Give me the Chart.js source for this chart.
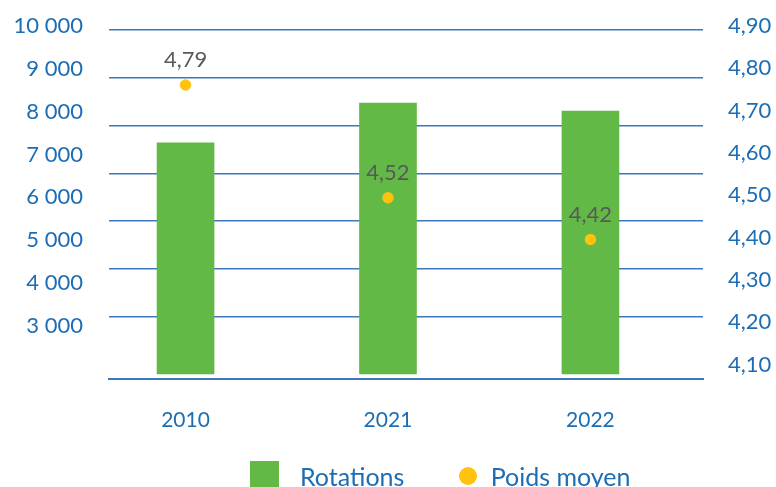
<!DOCTYPE html>
<html lang="fr">
<head>
<meta charset="utf-8">
<title>Rotations et poids moyen</title>
<script src="https://cdn.jsdelivr.net/npm/chart.js@4.4.1/dist/chart.umd.min.js"></script>
<style>
  html, body { margin: 0; padding: 0; background: #fff; overflow: hidden; }
  #wrap { position: relative; width: 776px; height: 487px; }
  #legend { position: absolute; left: 0; top: 0; width: 776px; height: 487px; pointer-events: none;
    font-family: Lato, sans-serif; font-size: 25px; color: #1d6db5; }
  .item { position: absolute; top: 461px; height: 29px; display: flex; align-items: center; white-space: nowrap; }
  .item0 { left: 250px; }
  .item1 { left: 458.7px; }
  .square { width: 29px; height: 29px; margin-right: 21px; }
  .dot { width: 18px; height: 18px; border-radius: 50%; margin-right: 14px; }
</style>
</head>
<body>
<div id="wrap">
  <canvas id="myChart" width="776" height="487"></canvas>
  <div id="legend"></div>
</div>
<script>
'use strict';

// data
let years = ['2010', '2021', '2022'];
let rotations = [7270, 8200, 8010];
let poidsMoyen = [4.79, 4.52, 4.42];

// tick labels
let rotationTicks = [3000, 4000, 5000, 6000, 7000, 8000, 9000, 10000];
let gridTicks = [4000, 5000, 6000, 7000, 8000, 9000, 10000];
let poidsTicks = [4.1, 4.2, 4.3, 4.4, 4.5, 4.6, 4.7, 4.8, 4.9];

const blue = '#1d6db5';
const lineBlue = '#3c78ba';
const green = '#62b946';
const yellow = '#ffc20f';
const tickFont = {family: 'Lato', size: 22};

function formatThousands(v) {
  return String(v).replace(/\B(?=(\d{3})+(?!\d))/g, ' ');
}

function formatComma(v) {
  return v.toFixed(2).replace('.', ',');
}

// force the tick list of an axis
function setTicks(values) {
  return function(axis) {
    axis.ticks = values.map(v => ({value: v}));
  };
}

// fixed axis width, no extra room for the end labels
function fixWidth(w) {
  return function(axis) {
    axis.width = w;
    axis.paddingTop = 0;
    axis.paddingBottom = 0;
  };
}

// writes the poids moyen value above each dot
const valueLabels = {
  id: 'valueLabels',
  afterDatasetsDraw(chart) {
    let meta = chart.getDatasetMeta(1);
    let c = chart.ctx;
    c.save();
    c.font = '22px Lato';
    c.fillStyle = '#595959';
    c.textAlign = 'center';
    c.textBaseline = 'middle';
    meta.data.forEach((pt, i) => {
      c.fillText(formatComma(poidsMoyen[i]), pt.x, pt.y - 25);
    });
    c.restore();
  }
};

let ctx = document.getElementById('myChart').getContext('2d');
let myChart = new Chart(ctx, {
  type: 'bar',
  data: {
    datasets: [{
      label: 'Rotations',
      data: rotations.map((v, i) => ({x: i, y: v})),
      backgroundColor: green,
      base: 1880,
      barThickness: 57,
      yAxisID: 'yRot',
      order: 2
    },
    {
      type: 'line',
      label: 'Poids moyen',
      data: poidsMoyen.map((v, i) => ({x: i, y: v})),
      showLine: false,
      pointRadius: 5.7,
      pointBorderWidth: 0,
      backgroundColor: yellow,
      borderColor: yellow,
      yAxisID: 'yDot',
      order: 1
    }]
  },
  options: {
    responsive: false,
    animation: false,
    layout: {padding: {top: 20, bottom: 48, left: 0, right: 0}},
    plugins: {
      legend: {display: false},
      tooltip: {enabled: false}
    },
    scales: {
      x: {
        type: 'linear',
        offset: false,
        min: -0.378,
        max: 2.556,
        afterBuildTicks: setTicks([0, 1, 2]),
        afterFit: s => { s.height = 60; },
        ticks: {callback: v => years[v], color: blue, font: {family: 'Lato', size: 21}, padding: 29, maxRotation: 0},
        grid: {display: false, drawTicks: false, offset: false},
        border: {display: true, color: lineBlue, width: 2}
      },
      yRot: {
        position: 'left',
        min: 1764,
        max: 10135,
        afterBuildTicks: setTicks(rotationTicks),
        afterFit: fixWidth(109),
        ticks: {callback: formatThousands, color: blue, font: tickFont, padding: 26},
        grid: {display: false, drawTicks: false},
        border: {display: false}
      },
      yGrid: {
        position: 'left',
        min: 2696,
        max: 10209,
        afterBuildTicks: setTicks(gridTicks),
        afterFit: fixWidth(0),
        ticks: {display: false},
        grid: {color: lineBlue, lineWidth: 1.5, drawTicks: false},
        border: {display: false}
      },
      yPoids: {
        position: 'right',
        min: 4.0655,
        max: 4.9142,
        afterBuildTicks: setTicks(poidsTicks),
        afterFit: fixWidth(73),
        ticks: {callback: formatComma, color: blue, font: tickFont, padding: 25, crossAlign: 'center'},
        grid: {display: false, drawTicks: false},
        border: {display: false}
      },
      yDot: {
        display: false,
        min: 4.0862,
        max: 4.9456
      }
    }
  },
  plugins: [valueLabels]
});

// legend under the chart
function buildLegend(chart) {
  let box = document.getElementById('legend');
  chart.data.datasets.forEach((ds, i) => {
    let item = document.createElement('div');
    item.className = 'item item' + i;
    let mark = document.createElement('span');
    mark.className = ds.type === 'line' ? 'dot' : 'square';
    mark.style.background = ds.backgroundColor;
    let text = document.createElement('span');
    text.textContent = ds.label;
    item.appendChild(mark);
    item.appendChild(text);
    box.appendChild(item);
  });
}

buildLegend(myChart);
</script>
</body>
</html>
